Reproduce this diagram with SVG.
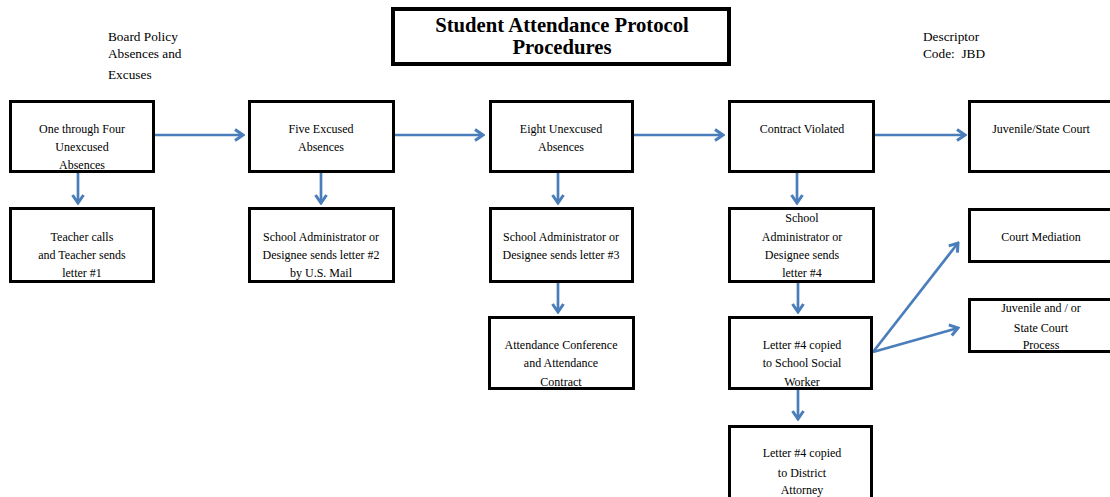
<svg xmlns="http://www.w3.org/2000/svg" width="1110" height="497" viewBox="0 0 1110 497">
<style>
.box{fill:#fff;stroke:#000;stroke-width:3}
.title{fill:#fff;stroke:#000;stroke-width:4}
.t{font-family:"Liberation Serif","Times New Roman",serif;font-size:12px;fill:#000;text-anchor:middle}
.h{font-family:"Liberation Serif","Times New Roman",serif;font-size:20.7px;font-weight:bold;fill:#000;text-anchor:middle}
.n{font-family:"Liberation Serif","Times New Roman",serif;font-size:13.3px;fill:#000}
.c{stroke:#4A7EBB;stroke-width:2.7;fill:none;marker-end:url(#ah)}
</style>
<defs>
<marker id="ah" markerUnits="userSpaceOnUse" viewBox="-12 -8 14 16" refX="0" refY="0" markerWidth="14" markerHeight="16" orient="auto">
<path d="M-8,-5.5 L0,0 L-8,5.5" fill="none" stroke="#4A7EBB" stroke-width="3" stroke-linejoin="miter"/>
</marker>
</defs>
<rect width="1110" height="497" fill="#fff"/>
<g id="title">
<rect class="title" x="393" y="9" width="336" height="55"/>
<text class="h" x="562" y="32">Student Attendance Protocol</text>
<text class="h" x="562" y="54">Procedures</text>
</g>
<g id="board-policy">
<text class="n" x="108" y="41">Board Policy</text>
<text class="n" x="108" y="58">Absences and</text>
<text class="n" x="108" y="79">Excuses</text>
</g>
<g id="descriptor">
<text class="n" x="923" y="41">Descriptor</text>
<text class="n" x="923" y="58">Code:&#160; JBD</text>
</g>
<g id="connectors">
<line class="c" x1="155" y1="135" x2="243" y2="135"/>
<line class="c" x1="395" y1="135" x2="483" y2="135"/>
<line class="c" x1="634" y1="135" x2="723" y2="135"/>
<line class="c" x1="875" y1="135" x2="965" y2="135"/>
<line class="c" x1="78" y1="172" x2="78" y2="203"/>
<line class="c" x1="321" y1="172" x2="321" y2="203"/>
<line class="c" x1="558" y1="172" x2="558" y2="203"/>
<line class="c" x1="797" y1="172" x2="797" y2="203"/>
<line class="c" x1="558" y1="282" x2="558" y2="312"/>
<line class="c" x1="798" y1="282" x2="798" y2="312"/>
<line class="c" x1="798" y1="389" x2="798" y2="419"/>
<line class="c" x1="873" y1="352" x2="958" y2="243"/>
<line class="c" x1="873" y1="352" x2="958" y2="328"/>
</g>
<g id="n1">
<rect class="box" x="10.5" y="101.5" width="143" height="70"/>
<text class="t" x="82" y="133">One through Four</text>
<text class="t" x="82" y="151">Unexcused</text>
<text class="t" x="82" y="169">Absences</text>
</g>
<g id="n2">
<rect class="box" x="249.5" y="101.5" width="144" height="70"/>
<text class="t" x="321" y="133">Five Excused</text>
<text class="t" x="321" y="151">Absences</text>
</g>
<g id="n3">
<rect class="box" x="490.5" y="101.5" width="142" height="70"/>
<text class="t" x="561" y="133">Eight Unexcused</text>
<text class="t" x="561" y="151">Absences</text>
</g>
<g id="n4">
<rect class="box" x="729.5" y="101.5" width="144" height="70"/>
<text class="t" x="802" y="133">Contract Violated</text>
</g>
<g id="n5">
<rect class="box" x="969.5" y="101.5" width="144" height="70"/>
<text class="t" x="1041" y="133">Juvenile/State Court</text>
</g>
<g id="n6">
<rect class="box" x="10.5" y="208.5" width="143" height="73"/>
<text class="t" x="82" y="241">Teacher calls</text>
<text class="t" x="82" y="259">and Teacher sends</text>
<text class="t" x="82" y="277">letter #1</text>
</g>
<g id="n7">
<rect class="box" x="249.5" y="208.5" width="144" height="73"/>
<text class="t" x="321" y="241">School Administrator or</text>
<text class="t" x="321" y="259">Designee sends letter #2</text>
<text class="t" x="321" y="277">by U.S. Mail</text>
</g>
<g id="n8">
<rect class="box" x="490.5" y="208.5" width="142" height="73"/>
<text class="t" x="561" y="241">School Administrator or</text>
<text class="t" x="561" y="259">Designee sends letter #3</text>
</g>
<g id="n9">
<rect class="box" x="729.5" y="208.5" width="144" height="73"/>
<text class="t" x="802" y="222">School</text>
<text class="t" x="802" y="241">Administrator or</text>
<text class="t" x="802" y="259">Designee sends</text>
<text class="t" x="802" y="277">letter #4</text>
</g>
<g id="n10">
<rect class="box" x="969.5" y="209.5" width="144" height="52"/>
<text class="t" x="1041" y="241">Court Mediation</text>
</g>
<g id="n11">
<rect class="box" x="969.5" y="299.5" width="144" height="52"/>
<text class="t" x="1041" y="312">Juvenile and / or</text>
<text class="t" x="1041" y="332">State Court</text>
<text class="t" x="1041" y="349">Process</text>
</g>
<g id="n12">
<rect class="box" x="489.5" y="317.5" width="144" height="71"/>
<text class="t" x="561" y="349">Attendance Conference</text>
<text class="t" x="561" y="367">and Attendance</text>
<text class="t" x="561" y="386">Contract</text>
</g>
<g id="n13">
<rect class="box" x="729.5" y="317.5" width="142" height="71"/>
<text class="t" x="802" y="349">Letter #4 copied</text>
<text class="t" x="802" y="367">to School Social</text>
<text class="t" x="802" y="386">Worker</text>
</g>
<g id="n14">
<rect class="box" x="729.5" y="426.5" width="142" height="74"/>
<text class="t" x="802" y="457">Letter #4 copied</text>
<text class="t" x="802" y="477">to District</text>
<text class="t" x="802" y="494">Attorney</text>
</g>
</svg>
